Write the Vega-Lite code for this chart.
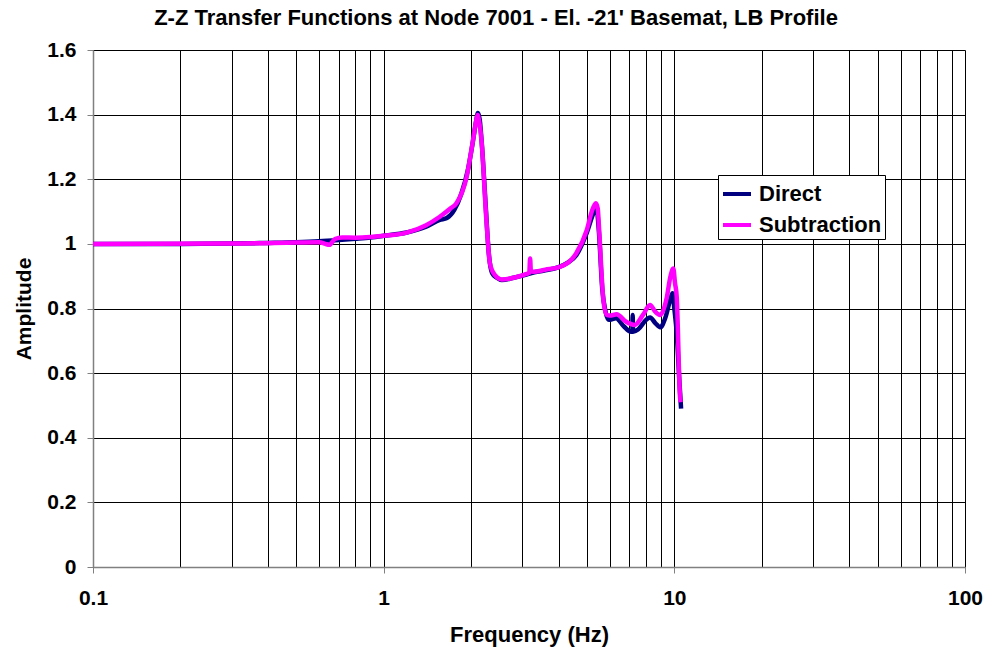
{
  "$schema": "https://vega.github.io/schema/vega-lite/v6.json",
  "width": 872,
  "height": 517,
  "autosize": "none",
  "padding": {"left": 93, "top": 50, "right": 24, "bottom": 87},
  "background": "white",
  "title": {
    "text": "Z-Z Transfer Functions at Node 7001 - El. -21' Basemat, LB Profile",
    "font": "Liberation Sans",
    "fontSize": 22,
    "fontWeight": "bold",
    "color": "black",
    "anchor": "middle",
    "dx": -33,
    "offset": 9
  },
  "config": {
    "view": {"stroke": null},
    "font": "Liberation Sans"
  },
  "data": {
    "values": [
      {"series": "Direct", "f": 0.1, "a": 1.0},
      {"series": "Direct", "f": 0.2, "a": 1.0},
      {"series": "Direct", "f": 0.3, "a": 1.001},
      {"series": "Direct", "f": 0.4, "a": 1.003},
      {"series": "Direct", "f": 0.5, "a": 1.005},
      {"series": "Direct", "f": 0.6, "a": 1.008},
      {"series": "Direct", "f": 0.7, "a": 1.012},
      {"series": "Direct", "f": 0.8, "a": 1.016},
      {"series": "Direct", "f": 0.9, "a": 1.02},
      {"series": "Direct", "f": 1.0, "a": 1.025},
      {"series": "Direct", "f": 1.2, "a": 1.035},
      {"series": "Direct", "f": 1.4, "a": 1.053},
      {"series": "Direct", "f": 1.56, "a": 1.074},
      {"series": "Direct", "f": 1.65, "a": 1.08},
      {"series": "Direct", "f": 1.75, "a": 1.105},
      {"series": "Direct", "f": 1.85, "a": 1.155},
      {"series": "Direct", "f": 1.95, "a": 1.23},
      {"series": "Direct", "f": 2.03, "a": 1.32},
      {"series": "Direct", "f": 2.08, "a": 1.38},
      {"series": "Direct", "f": 2.11, "a": 1.405},
      {"series": "Direct", "f": 2.14, "a": 1.385},
      {"series": "Direct", "f": 2.18, "a": 1.30},
      {"series": "Direct", "f": 2.24, "a": 1.13},
      {"series": "Direct", "f": 2.3, "a": 0.97},
      {"series": "Direct", "f": 2.36, "a": 0.91},
      {"series": "Direct", "f": 2.45, "a": 0.895},
      {"series": "Direct", "f": 2.55, "a": 0.888},
      {"series": "Direct", "f": 2.8, "a": 0.895},
      {"series": "Direct", "f": 3.1, "a": 0.905},
      {"series": "Direct", "f": 3.3, "a": 0.912},
      {"series": "Direct", "f": 3.6, "a": 0.918},
      {"series": "Direct", "f": 4.0, "a": 0.928},
      {"series": "Direct", "f": 4.3, "a": 0.942},
      {"series": "Direct", "f": 4.6, "a": 0.965},
      {"series": "Direct", "f": 5.0, "a": 1.035},
      {"series": "Direct", "f": 5.3, "a": 1.1},
      {"series": "Direct", "f": 5.4, "a": 1.11},
      {"series": "Direct", "f": 5.5, "a": 1.04},
      {"series": "Direct", "f": 5.65, "a": 0.86},
      {"series": "Direct", "f": 5.8, "a": 0.79},
      {"series": "Direct", "f": 5.95, "a": 0.765},
      {"series": "Direct", "f": 6.3, "a": 0.77},
      {"series": "Direct", "f": 6.7, "a": 0.745},
      {"series": "Direct", "f": 7.1, "a": 0.728},
      {"series": "Direct", "f": 7.17, "a": 0.728},
      {"series": "Direct", "f": 7.19, "a": 0.78},
      {"series": "Direct", "f": 7.21, "a": 0.728},
      {"series": "Direct", "f": 7.5, "a": 0.735},
      {"series": "Direct", "f": 8.0, "a": 0.765},
      {"series": "Direct", "f": 8.25, "a": 0.772},
      {"series": "Direct", "f": 8.6, "a": 0.755},
      {"series": "Direct", "f": 8.95, "a": 0.742},
      {"series": "Direct", "f": 9.3, "a": 0.77},
      {"series": "Direct", "f": 9.7, "a": 0.83},
      {"series": "Direct", "f": 9.86, "a": 0.847},
      {"series": "Direct", "f": 10.0, "a": 0.8},
      {"series": "Direct", "f": 10.2, "a": 0.72},
      {"series": "Direct", "f": 10.4, "a": 0.58},
      {"series": "Direct", "f": 10.55, "a": 0.49},
      {"series": "Subtraction", "f": 0.1, "a": 1.0},
      {"series": "Subtraction", "f": 0.3, "a": 1.001},
      {"series": "Subtraction", "f": 0.5, "a": 1.004},
      {"series": "Subtraction", "f": 0.6, "a": 1.005},
      {"series": "Subtraction", "f": 0.63, "a": 1.0},
      {"series": "Subtraction", "f": 0.65, "a": 0.997},
      {"series": "Subtraction", "f": 0.68, "a": 1.015},
      {"series": "Subtraction", "f": 0.72, "a": 1.02},
      {"series": "Subtraction", "f": 0.8, "a": 1.019},
      {"series": "Subtraction", "f": 0.9, "a": 1.021},
      {"series": "Subtraction", "f": 1.0, "a": 1.025},
      {"series": "Subtraction", "f": 1.2, "a": 1.035},
      {"series": "Subtraction", "f": 1.4, "a": 1.058},
      {"series": "Subtraction", "f": 1.56, "a": 1.084},
      {"series": "Subtraction", "f": 1.7, "a": 1.11},
      {"series": "Subtraction", "f": 1.78, "a": 1.126},
      {"series": "Subtraction", "f": 1.93, "a": 1.208},
      {"series": "Subtraction", "f": 2.03, "a": 1.321},
      {"series": "Subtraction", "f": 2.08, "a": 1.38},
      {"series": "Subtraction", "f": 2.105, "a": 1.399},
      {"series": "Subtraction", "f": 2.13, "a": 1.38},
      {"series": "Subtraction", "f": 2.17, "a": 1.321},
      {"series": "Subtraction", "f": 2.26, "a": 1.064},
      {"series": "Subtraction", "f": 2.32, "a": 0.94},
      {"series": "Subtraction", "f": 2.41, "a": 0.904},
      {"series": "Subtraction", "f": 2.55, "a": 0.89},
      {"series": "Subtraction", "f": 2.8, "a": 0.895},
      {"series": "Subtraction", "f": 3.1, "a": 0.907},
      {"series": "Subtraction", "f": 3.17, "a": 0.91},
      {"series": "Subtraction", "f": 3.19, "a": 0.955},
      {"series": "Subtraction", "f": 3.21, "a": 0.915},
      {"series": "Subtraction", "f": 3.27, "a": 0.914},
      {"series": "Subtraction", "f": 3.6, "a": 0.92},
      {"series": "Subtraction", "f": 4.04, "a": 0.929},
      {"series": "Subtraction", "f": 4.6, "a": 0.971},
      {"series": "Subtraction", "f": 5.0, "a": 1.043},
      {"series": "Subtraction", "f": 5.2, "a": 1.1},
      {"series": "Subtraction", "f": 5.37, "a": 1.126},
      {"series": "Subtraction", "f": 5.45, "a": 1.11},
      {"series": "Subtraction", "f": 5.52, "a": 1.033},
      {"series": "Subtraction", "f": 5.7, "a": 0.826},
      {"series": "Subtraction", "f": 5.85, "a": 0.78},
      {"series": "Subtraction", "f": 6.0, "a": 0.778},
      {"series": "Subtraction", "f": 6.33, "a": 0.782},
      {"series": "Subtraction", "f": 6.8, "a": 0.76},
      {"series": "Subtraction", "f": 7.3, "a": 0.749},
      {"series": "Subtraction", "f": 7.8, "a": 0.78},
      {"series": "Subtraction", "f": 8.25, "a": 0.811},
      {"series": "Subtraction", "f": 8.6, "a": 0.79},
      {"series": "Subtraction", "f": 8.93, "a": 0.78},
      {"series": "Subtraction", "f": 9.4, "a": 0.83},
      {"series": "Subtraction", "f": 9.7, "a": 0.9},
      {"series": "Subtraction", "f": 9.92, "a": 0.924},
      {"series": "Subtraction", "f": 10.05, "a": 0.88},
      {"series": "Subtraction", "f": 10.19, "a": 0.837},
      {"series": "Subtraction", "f": 10.46, "a": 0.527},
      {"series": "Subtraction", "f": 10.5, "a": 0.51}
    ]
  },
  "mark": {"type": "line", "strokeWidth": 4.5, "clip": true, "interpolate": "monotone"},
  "encoding": {
    "x": {
      "field": "f",
      "type": "quantitative",
      "scale": {"type": "log", "domain": [0.1, 100], "nice": false},
      "axis": {
        "title": "Frequency (Hz)",
        "values": [0.1, 0.2, 0.3, 0.4, 0.5, 0.6, 0.7, 0.8, 0.9, 1, 2, 3, 4, 5, 6, 7, 8, 9, 10, 20, 30, 40, 50, 60, 70, 80, 90, 100],
        "labelExpr": "(datum.value == 0.1 || datum.value == 1 || datum.value == 10 || datum.value == 100) ? datum.label : ''",
        "format": "~g",
        "grid": true,
        "gridColor": "black",
        "gridOpacity": 1,
        "gridWidth": 1,
        "domainColor": "#808080",
        "domainWidth": 1.5,
        "tickColor": "#808080",
        "tickSize": 6,
        "tickOpacity": {"condition": {"test": "datum.value == 0.1 || datum.value == 1 || datum.value == 10 || datum.value == 100", "value": 1}, "value": 0},
        "labelFont": "Liberation Sans",
        "labelFontSize": 21,
        "labelFontWeight": "bold",
        "labelColor": "black",
        "labelPadding": 14,
        "labelFlush": false,
        "labelOverlap": false,
        "titleFont": "Liberation Sans",
        "titleFontSize": 22,
        "titleFontWeight": "bold",
        "titleColor": "black",
        "titlePadding": 16
      }
    },
    "y": {
      "field": "a",
      "type": "quantitative",
      "scale": {"domain": [0, 1.6], "nice": false, "zero": true},
      "axis": {
        "title": "Amplitude",
        "values": [0, 0.2, 0.4, 0.6, 0.8, 1, 1.2, 1.4, 1.6],
        "labelExpr": "datum.value",
        "grid": true,
        "gridColor": "black",
        "gridOpacity": 1,
        "gridWidth": 1,
        "domainColor": "#808080",
        "domainWidth": 1.5,
        "tickColor": "#808080",
        "tickSize": 6,
        "labelFont": "Liberation Sans",
        "labelFontSize": 21,
        "labelFontWeight": "bold",
        "labelColor": "black",
        "labelPadding": 11,
        "labelFlush": false,
        "labelOverlap": false,
        "titleFont": "Liberation Sans",
        "titleFontSize": 21,
        "titleFontWeight": "bold",
        "titleColor": "black",
        "titlePadding": 12
      }
    },
    "color": {
      "field": "series",
      "type": "nominal",
      "scale": {"domain": ["Direct", "Subtraction"], "range": ["#000080", "#FF00FF"]},
      "legend": {
        "title": null,
        "orient": "none",
        "legendX": 625,
        "legendY": 125,
        "symbolType": "stroke",
        "symbolStrokeWidth": 4,
        "symbolSize": 784,
        "labelFont": "Liberation Sans",
        "labelFontSize": 22,
        "labelFontWeight": "bold",
        "labelColor": "black",
        "labelOffset": 6,
        "rowPadding": 4,
        "padding": 3,
        "strokeColor": "black",
        "fillColor": "white",
        "cornerRadius": 0
      }
    },
    "order": {"field": "f", "type": "quantitative"}
  }
}
